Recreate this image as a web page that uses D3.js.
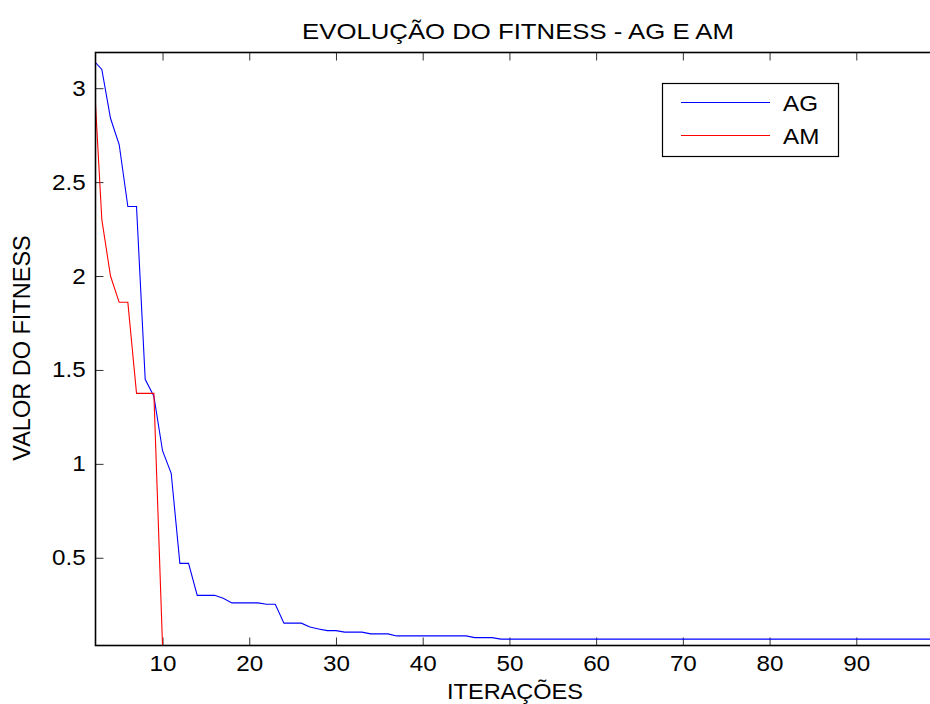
<!DOCTYPE html>
<html>
<head>
<meta charset="utf-8">
<script src="https://cdn.jsdelivr.net/npm/d3@7"></script>
<style>
  body { margin: 0; background: #fff; }
  text { font-family: "Liberation Sans", Arial, sans-serif; fill: #000; }
</style>
</head>
<body>
<div id="chart"></div>
<script>
'use strict';

// fitness per iteration
const agIterations = d3.range(2, 101);
const agFitness = [
    3.15, 3.10, 2.84, 2.70, 2.37, 2.37, 1.45, 1.36, 1.07, 0.95,
    0.47, 0.47, 0.30, 0.30, 0.30, 0.285, 0.26, 0.26, 0.26, 0.26,
    0.253, 0.253, 0.152, 0.152, 0.152, 0.131, 0.121, 0.112, 0.112, 0.104,
    0.104, 0.104, 0.095, 0.095, 0.095, 0.084, 0.084, 0.084, 0.084, 0.084,
    0.084, 0.084, 0.084, 0.084, 0.075, 0.075, 0.075, 0.067, 0.067, 0.067,
    0.067, 0.067, 0.067, 0.067, 0.067, 0.067, 0.067, 0.067, 0.067, 0.067,
    0.067, 0.067, 0.067, 0.067, 0.067, 0.067, 0.067, 0.067, 0.067, 0.067,
    0.067, 0.067, 0.067, 0.067, 0.067, 0.067, 0.067, 0.067, 0.067, 0.067,
    0.067, 0.067, 0.067, 0.067, 0.067, 0.067, 0.067, 0.067, 0.067, 0.067,
    0.067, 0.067, 0.067, 0.067, 0.067, 0.067, 0.067, 0.067, 0.067
];
const amIterations = [2, 3, 4, 5, 6, 7, 8, 9, 10];
const amFitness = [3.14, 2.30, 2.00, 1.86, 1.86, 1.375, 1.375, 1.375, 0.033];

const xTicks = [10, 20, 30, 40, 50, 60, 70, 80, 90];
const yTicks = [0.5, 1, 1.5, 2, 2.5, 3];
const seriesNames = ["AG", "AM"];
const seriesColors = ["#0000ff", "#ff0000"];

const W = 930, H = 704;
const plotLeft = 95.5, plotTop = 52.5, plotBottom = 645.5, plotRight = 943;
const stretch = 1.1;   // the picture's text is a bit wider than normal

const svg = d3.select("#chart")
    .append("svg")
    .attr("width", W)
    .attr("height", H);

const x = d3.scaleLinear().domain([2.27, 100]).range([plotLeft, plotRight]);
const y = d3.scaleLinear().domain([0.033, 3.19]).range([plotBottom, plotTop]);

svg.append("clipPath").attr("id", "plotclip")
    .append("rect")
    .attr("x", plotLeft).attr("y", plotTop)
    .attr("width", plotRight - plotLeft).attr("height", plotBottom - plotTop);

// axes, ticks pointing inward like matlab
const xAxis = svg.append("g")
    .attr("transform", "translate(0," + plotBottom + ")")
    .call(d3.axisBottom(x).tickValues(xTicks).tickSizeInner(-8).tickSizeOuter(0).tickPadding(10));
const yAxis = svg.append("g")
    .attr("transform", "translate(" + plotLeft + ",0)")
    .call(d3.axisLeft(y).tickValues(yTicks).tickFormat(d3.format("")).tickSizeInner(-8).tickSizeOuter(0).tickPadding(9));
svg.append("g")
    .attr("transform", "translate(0," + plotTop + ")")
    .call(d3.axisTop(x).tickValues(xTicks).tickSizeInner(-8).tickSizeOuter(0).tickFormat(""));
svg.append("g")
    .attr("transform", "translate(" + plotRight + ",0)")
    .call(d3.axisRight(y).tickValues(yTicks).tickSizeInner(-8).tickSizeOuter(0).tickFormat(""));

svg.selectAll(".domain").remove();
svg.selectAll(".tick line").attr("stroke", "#333").attr("stroke-width", 1);
[xAxis, yAxis].forEach(function(g) {
    g.selectAll(".tick text")
        .attr("font-size", 22)
        .attr("font-family", "Liberation Sans, Arial, sans-serif")
        .attr("fill", "#000")
        .attr("transform", "scale(" + stretch + ",1)");
});

// data lines
const line = d3.line()
    .x(function(d) { return x(d[0]); })
    .y(function(d) { return y(d[1]); });

const series = [
    d3.zip(agIterations, agFitness),
    d3.zip(amIterations, amFitness)
];

svg.append("g")
    .attr("clip-path", "url(#plotclip)")
    .selectAll("path")
    .data(series)
    .enter()
    .append("path")
    .attr("d", line)
    .attr("fill", "none")
    .attr("stroke", function(d, i) { return seriesColors[i]; })
    .attr("stroke-width", 1.1);

// box
svg.append("rect")
    .attr("x", plotLeft).attr("y", plotTop)
    .attr("width", plotRight - plotLeft).attr("height", plotBottom - plotTop)
    .attr("fill", "none")
    .attr("stroke", "#000")
    .attr("stroke-width", 1.6);

function label(txt, px, py, size, sx, anchor) {
    return svg.append("text")
        .attr("transform", "translate(" + px + "," + py + ") scale(" + sx + ",1)")
        .attr("text-anchor", anchor || "middle")
        .attr("font-size", size)
        .text(txt);
}

label("EVOLUÇÃO DO FITNESS - AG E AM", 518, 39, 22, 1.17);
label("ITERAÇÕES", 515, 699, 22, 1.07);

svg.append("text")
    .attr("transform", "translate(30,348) rotate(-90)")
    .attr("text-anchor", "middle")
    .attr("font-size", 23.5)
    .text("VALOR DO FITNESS");

// legend
const legend = svg.append("g");
legend.append("rect")
    .attr("x", 662.5).attr("y", 83.5)
    .attr("width", 176).attr("height", 73)
    .attr("fill", "#fff")
    .attr("stroke", "#000")
    .attr("stroke-width", 1.2);

seriesNames.forEach(function(name, i) {
    const ly = 102.5 + i * 33;
    legend.append("line")
        .attr("x1", 681).attr("x2", 770)
        .attr("y1", ly).attr("y2", ly)
        .attr("stroke", seriesColors[i])
        .attr("stroke-width", 1.1);
    label(name, 783, ly + 8, 22, stretch, "start");
});
</script>
</body>
</html>
